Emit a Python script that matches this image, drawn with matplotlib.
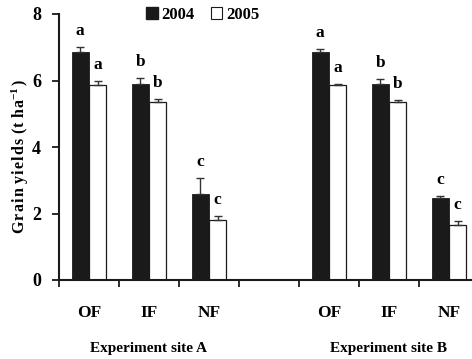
import matplotlib
matplotlib.use("Agg")
import matplotlib.pyplot as plt
from matplotlib.patches import Patch
import numpy as np

# ---- data ----
slots = [0, 1, 2, 4, 5, 6]                 # category slots (slot 3 is an empty gap)
treatments = ["OF", "IF", "NF", "OF", "IF", "NF"]
sites = ["Experiment site A", "Experiment site B"]
y2004 = [6.86, 5.89, 2.59, 6.86, 5.90, 2.46]
e2004 = [0.15, 0.20, 0.48, 0.09, 0.16, 0.07]
y2005 = [5.86, 5.36, 1.80, 5.86, 5.36, 1.65]
e2005 = [0.12, 0.08, 0.12, 0.04, 0.06, 0.12]
l2004 = ["a", "b", "c", "a", "b", "c"]
l2005 = ["a", "b", "c", "a", "b", "c"]
yticks = [0, 2, 4, 6, 8]

plt.rcParams['font.family'] = ['Liberation Serif', 'DejaVu Serif']
plt.rcParams['font.weight'] = 'bold'
plt.rcParams['mathtext.fontset'] = 'custom'
plt.rcParams['mathtext.rm'] = 'Liberation Serif:bold'
plt.rcParams['mathtext.bf'] = 'Liberation Serif:bold'
plt.rcParams['mathtext.it'] = 'Liberation Serif:bold'

W, H = 472, 359
fig = plt.figure(figsize=(W / 100, H / 100), dpi=100)
ax = fig.add_axes([59 / W, 79 / H, 420 / W, 266 / H])

x = np.array(slots, dtype=float)
bw = 0.29
ax.bar(x - bw / 2, y2004, bw, color='#1a1a1a', edgecolor='#1a1a1a', linewidth=0.6,
       yerr=[np.zeros(len(e2004)), e2004], error_kw=dict(ecolor='#333333', elinewidth=1.0,
                                                        capsize=3, capthick=1.0))
ax.bar(x + bw / 2, y2005, bw, color='white', edgecolor='#1a1a1a', linewidth=0.9,
       yerr=[np.zeros(len(e2005)), e2005], error_kw=dict(ecolor='#333333', elinewidth=1.0,
                                                        capsize=3, capthick=1.0))

for xi, v, e, l in zip(x, y2004, e2004, l2004):
    ax.annotate(l, (xi - bw / 2, v + e), xytext=(0, 11.5), textcoords='offset points',
                ha='center', va='center', fontsize=12.5, fontweight='bold')
for xi, v, e, l in zip(x, y2005, e2005, l2005):
    ax.annotate(l, (xi + bw / 2, v + e), xytext=(0, 11.5), textcoords='offset points',
                ha='center', va='center', fontsize=12.5, fontweight='bold')

ax.set_xlim(-0.5, 6.5)
ax.set_ylim(0, 8)
ax.set_yticks(yticks)
ax.set_yticklabels([str(t) for t in yticks], fontsize=13, fontweight='bold')
ax.set_xticks(np.arange(-0.5, 7.0, 1.0))
ax.set_xticklabels([])
ax.tick_params(axis='both', direction='out', length=5, width=1.3, color='#1a1a1a')
ax.tick_params(axis='y', pad=8)
for s in ['top', 'right']:
    ax.spines[s].set_visible(False)
for s in ['left', 'bottom']:
    ax.spines[s].set_linewidth(1.5)
    ax.spines[s].set_color('#1a1a1a')

# treatment labels
for xi, t in zip(x, treatments):
    ax.text(xi, -0.98, t, ha='center', va='center', fontsize=12.5, fontweight='bold',
            clip_on=False)
# site labels
ax.text(1.0, -2.05, sites[0], ha='center', va='center', fontsize=11, fontweight='bold',
        clip_on=False)
ax.text(5.0, -2.05, sites[1], ha='center', va='center', fontsize=11, fontweight='bold',
        clip_on=False)

ts = "\u200a"
ylab = (ts.join("Grain") + " " + ts.join("yields") + " (" + ts + "t" + " " + "h" + ts + "a"
        + r"$^{\mathbf{-1}}$" + ts + ")")
fig.text(20 / W, 1 - 157 / H, ylab,
         rotation=90, ha='center', va='center', fontsize=11.5, fontweight='bold')

handles = [Patch(facecolor='#1a1a1a', edgecolor='#1a1a1a', label='2004'),
           Patch(facecolor='white', edgecolor='#1a1a1a', linewidth=0.8, label='2005')]
fig.legend(handles=handles, loc='center left', bbox_to_anchor=(146 / W, 1 - 15 / H),
           ncol=2, frameon=False, handlelength=0.7, handleheight=0.7,
           handletextpad=0.2, columnspacing=1.0, borderaxespad=0, borderpad=0,
           prop=dict(weight='bold', size=12))

fig.savefig("out.png", dpi=100)
